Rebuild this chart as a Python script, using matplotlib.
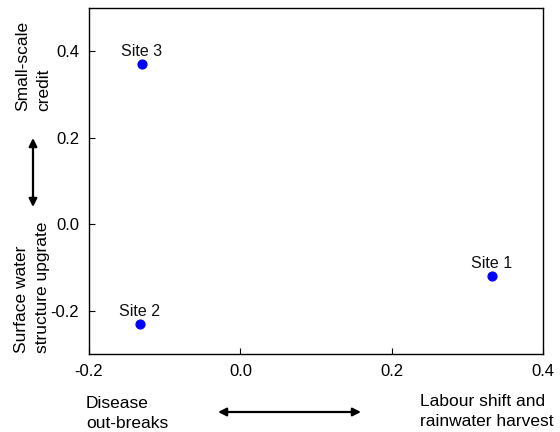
import matplotlib
matplotlib.use("Agg")
import matplotlib.pyplot as plt

plt.rcParams['font.family'] = ['Liberation Sans', 'DejaVu Sans']

sites = ["Site 1", "Site 2", "Site 3"]
x_vals = [0.332, -0.133, -0.130]
y_vals = [-0.120, -0.230, 0.372]
x_ticks = [-0.2, 0.0, 0.2, 0.4]
y_ticks = [-0.2, 0.0, 0.2, 0.4]

fig = plt.figure(figsize=(5.6, 4.32), dpi=100)
ax = fig.add_axes([0.159, 0.181, 0.811, 0.800])
ax.scatter(x_vals, y_vals, s=40, color="#0000ff", zorder=3)
for name, x, y in zip(sites, x_vals, y_vals):
    ax.annotate(name, (x, y), xytext=(0, 3.5), textcoords="offset points",
                ha="center", va="bottom", fontsize=11.5, color="#111111")

ax.set_xlim(-0.2, 0.4)
ax.set_ylim(-0.3, 0.5)
ax.set_xticks(x_ticks)
ax.set_yticks(y_ticks)
ax.set_xticklabels([f"{t:.1f}" for t in x_ticks])
ax.set_yticklabels([f"{t:.1f}" for t in y_ticks])
ax.tick_params(direction="in", length=4, labelsize=12, top=False, right=False, pad=7)
for s in ax.spines.values():
    s.set_linewidth(1.0)

# Annotations outside axes (figure coordinates)
fig.text(33/560, 1-66/432, "Small-scale\ncredit", rotation=90, ha="center", va="center",
         multialignment="left", fontsize=12.5, linespacing=1.5)
fig.text(32/560, 1-287/432, "Surface water\nstructure upgrate", rotation=90, ha="center", va="center",
         multialignment="left", fontsize=12.5, linespacing=1.5)
fig.text(86/560, 1-396/432, "Disease\nout-breaks", ha="left", va="top",
         fontsize=12.5, linespacing=1.4)
fig.text(420/560, 1-394/432, "Labour shift and\nrainwater harvest", ha="left", va="top",
         fontsize=12.5, linespacing=1.4)

arrowprops = dict(arrowstyle="<|-|>", color="black", lw=1.6, mutation_scale=12, shrinkA=0, shrinkB=0)
fig.add_artist(matplotlib.patches.FancyArrowPatch((33/560, 1-138/432), (33/560, 1-207/432),
               transform=fig.transFigure, **arrowprops))
fig.add_artist(matplotlib.patches.FancyArrowPatch((218/560, 1-412/432), (361/560, 1-412/432),
               transform=fig.transFigure, **arrowprops))

fig.savefig("out.png", dpi=100)
